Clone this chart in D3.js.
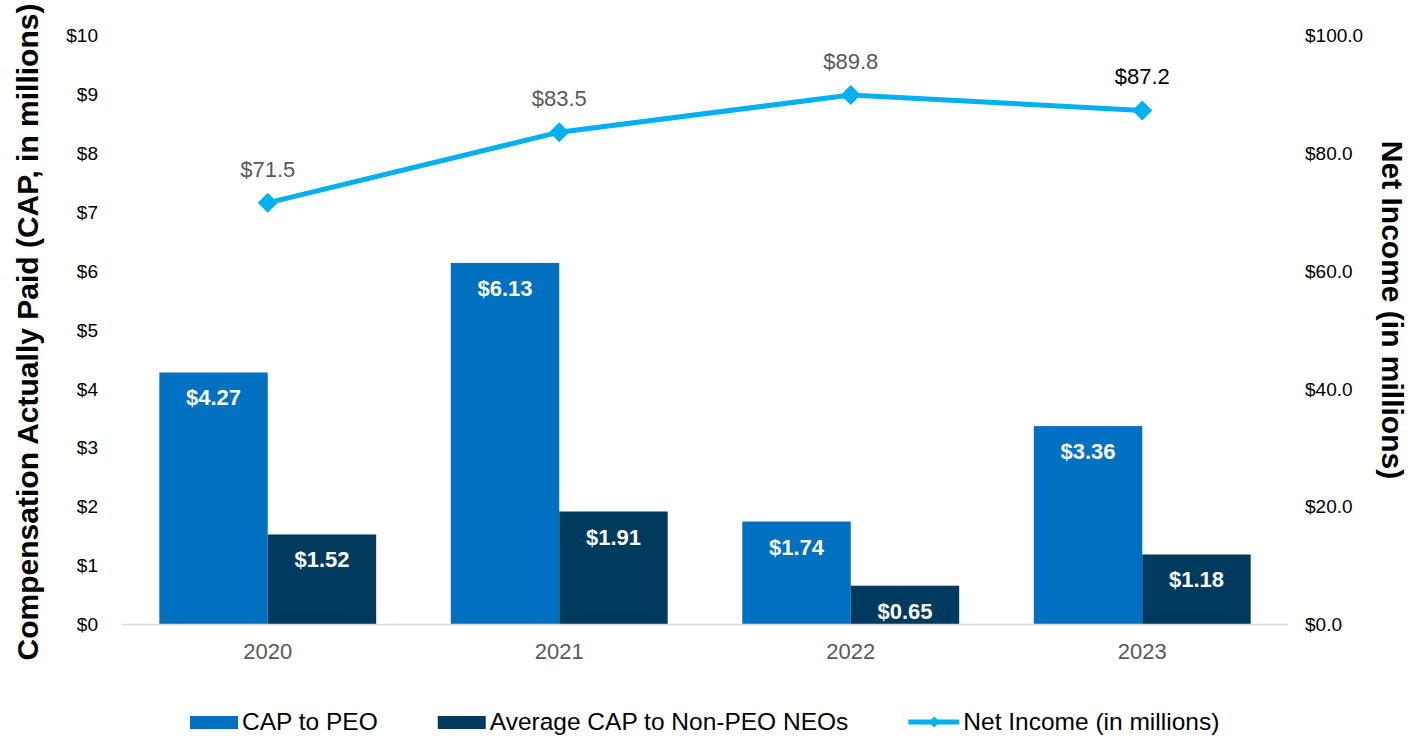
<!DOCTYPE html>
<html>
<head>
<meta charset="utf-8">
<script src="https://cdn.jsdelivr.net/npm/d3@7"></script>
<style>
  body { margin: 0; background: #fff; }
  svg { font-family: Arial, "Liberation Sans", sans-serif; display: block; }
</style>
</head>
<body>
<svg id="chart" width="1424" height="738"></svg>
<script>
// chart data
const years = ['2020', '2021', '2022', '2023']
const capPeo = [4.27, 6.13, 1.74, 3.36]
const capNeo = [1.52, 1.91, 0.65, 1.18]
const netIncome = [71.5, 83.5, 89.8, 87.2]
const leftTicks = [0, 1, 2, 3, 4, 5, 6, 7, 8, 9, 10]
const rightTicks = [0, 20, 40, 60, 80, 100]
const seriesNames = ['CAP to PEO', 'Average CAP to Non-PEO NEOs', 'Net Income (in millions)']

const colors = { peo: '#0070C0', neo: '#003A5F', line: '#00B0F0' }

const svg = d3.select('#chart')
const plotLeft = 122
const plotRight = 1288
const plotTop = 35
const plotBottom = 624

const x = d3.scaleBand()
  .domain(years)
  .range([plotLeft, plotRight])
  .paddingInner(0.256)
  .paddingOuter(0.128)

const inner = d3.scaleBand()
  .domain(['peo', 'neo'])
  .range([0, x.bandwidth()])

const y = d3.scaleLinear().domain([0, 10]).range([plotBottom, plotTop])
const y2 = d3.scaleLinear().domain([0, 100]).range([plotBottom, plotTop])

// left axis
const yAxis = d3.axisLeft(y)
  .tickValues(leftTicks)
  .tickSize(0)
  .tickPadding(0)
  .tickFormat(d => '$' + d)
svg.append('g')
  .attr('transform', `translate(98,0)`)
  .call(yAxis)
  .call(g => g.select('.domain').remove())
  .selectAll('text')
  .style('font-size', '19px')
  .style('fill', '#000')
  .attr('dy', '0.35em')

// right axis
const y2Axis = d3.axisRight(y2)
  .tickValues(rightTicks)
  .tickSize(0)
  .tickPadding(0)
  .tickFormat(d => '$' + d.toFixed(1))
svg.append('g')
  .attr('transform', `translate(1305,0)`)
  .call(y2Axis)
  .call(g => g.select('.domain').remove())
  .selectAll('text')
  .style('font-size', '19px')
  .style('fill', '#000')
  .attr('dy', '0.35em')

// bars
const groups = svg.append('g')
  .selectAll('g')
  .data(years)
  .join('g')
  .attr('transform', d => `translate(${x(d)},0)`)

function drawBars (key, values) {
  groups.append('rect')
    .attr('x', inner(key))
    .attr('y', (d, i) => y(values[i]))
    .attr('width', inner.bandwidth())
    .attr('height', (d, i) => plotBottom - y(values[i]))
    .style('fill', colors[key])

  groups.append('text')
    .attr('x', inner(key) + inner.bandwidth() / 2)
    .attr('y', (d, i) => y(values[i]) + 33)
    .attr('text-anchor', 'middle')
    .style('font-size', '22px')
    .style('font-weight', 'bold')
    .style('fill', '#fff')
    .text((d, i) => '$' + values[i].toFixed(2))
}
drawBars('peo', capPeo)
drawBars('neo', capNeo)

// baseline
svg.append('line')
  .attr('x1', plotLeft)
  .attr('x2', plotRight)
  .attr('y1', plotBottom + 0.5)
  .attr('y2', plotBottom + 0.5)
  .style('stroke', '#D9D9D9')
  .style('stroke-width', 1.5)

// category labels
svg.append('g')
  .selectAll('text')
  .data(years)
  .join('text')
  .attr('x', d => x(d) + x.bandwidth() / 2)
  .attr('y', 659)
  .attr('text-anchor', 'middle')
  .style('font-size', '22px')
  .style('fill', '#595959')
  .text(d => d)

// net income line
const cx = d => x(d) + x.bandwidth() / 2
const line = d3.line()
  .x((d, i) => cx(years[i]))
  .y(d => y2(d))

svg.append('path')
  .datum(netIncome)
  .attr('d', line)
  .style('fill', 'none')
  .style('stroke', colors.line)
  .style('stroke-width', 5)

const diamond = d3.symbol(d3.symbolSquare, 200)
svg.append('g')
  .selectAll('path')
  .data(netIncome)
  .join('path')
  .attr('d', diamond)
  .attr('transform', (d, i) => `translate(${cx(years[i])},${y2(d)}) rotate(45)`)
  .style('fill', colors.line)

svg.append('g')
  .selectAll('text')
  .data(netIncome)
  .join('text')
  .attr('x', (d, i) => cx(years[i]))
  .attr('y', d => y2(d) - 26)
  .attr('text-anchor', 'middle')
  .style('font-size', '22px')
  .style('fill', (d, i) => i === 3 ? '#000' : '#595959')
  .text(d => '$' + d.toFixed(1))

// axis titles
svg.append('text')
  .attr('transform', 'translate(38,332) rotate(-90)')
  .attr('text-anchor', 'middle')
  .style('font-size', '30px')
  .style('font-weight', 'bold')
  .style('fill', '#000')
  .text('Compensation Actually Paid (CAP, in millions)')

svg.append('text')
  .attr('transform', 'translate(1382,310) rotate(90)')
  .attr('text-anchor', 'middle')
  .style('font-size', '30px')
  .style('font-weight', 'bold')
  .style('fill', '#000')
  .text('Net Income (in millions)')

// legend
const legend = svg.append('g').attr('transform', 'translate(190,0)')
let lx = 0
seriesNames.forEach((name, i) => {
  const item = legend.append('g').attr('transform', `translate(${lx},0)`)
  let sw = 48
  if (i < 2) {
    item.append('rect')
      .attr('y', 716)
      .attr('width', 48)
      .attr('height', 13)
      .style('fill', i === 0 ? colors.peo : colors.neo)
  } else {
    sw = 51
    item.append('line')
      .attr('x1', 0).attr('x2', 51)
      .attr('y1', 722).attr('y2', 722)
      .style('stroke', colors.line)
      .style('stroke-width', 5)
    item.append('path')
      .attr('d', d3.symbol(d3.symbolSquare, 60))
      .attr('transform', 'translate(26,722) rotate(45)')
      .style('fill', colors.line)
  }
  const t = item.append('text')
    .attr('x', sw + 4)
    .attr('y', 730)
    .style('font-size', '24.5px')
    .style('fill', '#000')
    .text(name)
  lx += sw + 4 + t.node().getComputedTextLength() + 60
})
</script>
</body>
</html>
